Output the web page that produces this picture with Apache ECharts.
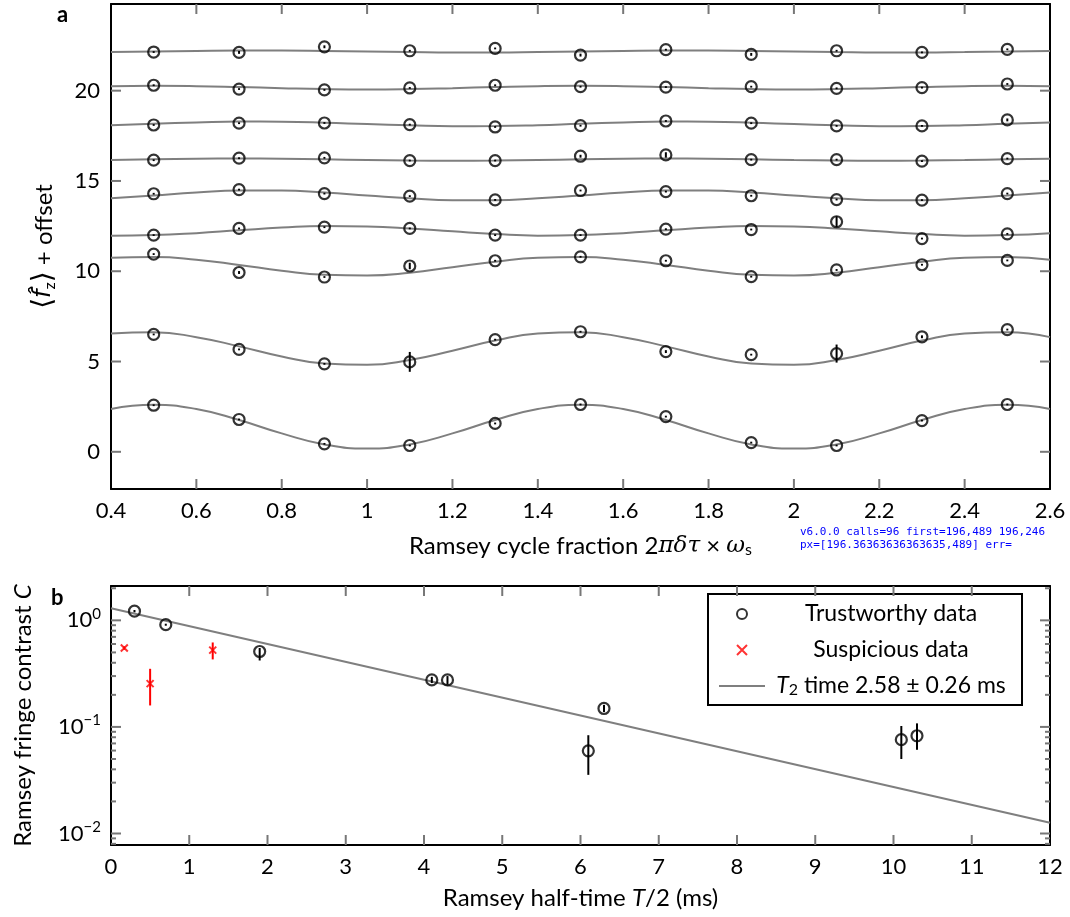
<!DOCTYPE html>
<html><head><meta charset="utf-8">
<script src="https://cdn.jsdelivr.net/npm/echarts@6/dist/echarts.min.js"></script>
<style>html,body{margin:0;padding:0;background:#fff}#c{width:1070px;height:917px}#dbg{position:absolute;left:800px;top:525px;font:11px monospace;color:#00f;white-space:pre}</style>
</head><body><div id="c"></div><div id="dbg"></div>
<script>
// ---------- Panel a data ----------
const cycleX = [0.5,0.7,0.9,1.1,1.3,1.5,1.7,1.9,2.1,2.3,2.5];
const xTicksA = [0.4,0.6,0.8,1,1.2,1.4,1.6,1.8,2,2.2,2.4,2.6];
const yTicksA = [0,5,10,15,20];
const fitX = [0.4,0.5,0.6,0.7,0.8,0.9,1.0,1.1,1.2,1.3,1.4,1.5,1.6,1.7,1.8,1.9,2.0,2.1,2.2,2.3,2.4,2.5,2.6];

const pts0 = [2.58,1.79,0.44,0.35,1.57,2.62,1.95,0.51,0.35,1.73,2.62];
const pts1 = [6.50,5.67,4.87,4.98,6.21,6.65,5.55,5.38,5.44,6.37,6.77];
const pts2 = [10.95,9.93,9.68,10.29,10.58,10.80,10.58,9.70,10.07,10.36,10.60];
const pts3 = [12.00,12.37,12.44,12.37,12.00,12.00,12.33,12.31,12.74,11.81,12.07];
const pts4 = [14.29,14.52,14.30,14.16,13.95,14.47,14.41,14.18,13.97,13.94,14.30];
const pts5 = [16.15,16.26,16.28,16.13,16.13,16.37,16.44,16.18,16.18,16.10,16.24];
const pts6 = [18.10,18.20,18.21,18.12,17.99,18.06,18.32,18.20,18.05,18.05,18.38];
const pts7 = [20.30,20.09,20.04,20.15,20.30,20.22,20.20,20.22,20.13,20.17,20.37];
const pts8 = [22.14,22.12,22.43,22.21,22.34,21.97,22.27,22.01,22.21,22.12,22.29];

const err0 = [0.05,0.05,0.05,0.05,0.05,0.05,0.05,0.05,0.05,0.05,0.05];
const err1 = [0.05,0.05,0.05,0.55,0.05,0.05,0.08,0.05,0.50,0.08,0.05];
const err2 = [0.05,0.08,0.05,0.18,0.05,0.05,0.05,0.05,0.05,0.05,0.05];
const err3 = [0.05,0.05,0.05,0.05,0.05,0.05,0.05,0.05,0.30,0.05,0.05];
const err4 = [0.05,0.05,0.05,0.05,0.05,0.05,0.05,0.05,0.05,0.05,0.05];
const err5 = [0.05,0.05,0.05,0.05,0.05,0.08,0.15,0.05,0.05,0.05,0.05];
const err6 = [0.05,0.05,0.05,0.05,0.05,0.05,0.05,0.05,0.05,0.05,0.08];
const err7 = [0.05,0.05,0.05,0.05,0.05,0.05,0.05,0.05,0.05,0.05,0.05];
const err8 = [0.05,0.08,0.08,0.05,0.05,0.08,0.05,0.08,0.05,0.05,0.05];

const fit0 = [2.37,2.60,2.37,1.76,1.02,0.41,0.18,0.41,1.02,1.76,2.37,2.60,2.37,1.76,1.02,0.41,0.18,0.41,1.02,1.76,2.37,2.60,2.37];
const fit1 = [6.55,6.62,6.35,5.84,5.28,4.89,4.82,5.09,5.60,6.16,6.55,6.62,6.35,5.84,5.28,4.89,4.82,5.09,5.60,6.16,6.55,6.62,6.35];
const fit2 = [10.75,10.79,10.64,10.35,10.03,9.81,9.77,9.92,10.22,10.53,10.75,10.79,10.64,10.35,10.03,9.81,9.77,9.92,10.22,10.53,10.75,10.79,10.64];
const fit3 = [11.97,12.00,12.11,12.27,12.42,12.51,12.48,12.37,12.21,12.06,11.97,12.00,12.11,12.27,12.42,12.51,12.48,12.37,12.21,12.06,11.97,12.00,12.11];
const fit4 = [14.04,14.20,14.36,14.47,14.47,14.36,14.20,14.04,13.93,13.93,14.04,14.20,14.36,14.47,14.47,14.36,14.20,14.04,13.93,13.93,14.04,14.20,14.36];
const fit5 = [16.16,16.20,16.23,16.24,16.23,16.20,16.16,16.13,16.12,16.13,16.16,16.20,16.23,16.24,16.23,16.20,16.16,16.13,16.12,16.13,16.16,16.20,16.23];
const fit6 = [18.09,18.17,18.24,18.29,18.28,18.23,18.15,18.08,18.03,18.04,18.09,18.17,18.24,18.29,18.28,18.23,18.15,18.08,18.03,18.04,18.09,18.17,18.24];
const fit7 = [20.25,20.27,20.25,20.20,20.14,20.09,20.07,20.09,20.14,20.20,20.25,20.27,20.25,20.20,20.14,20.09,20.07,20.09,20.14,20.20,20.25,20.27,20.25];
const fit8 = [22.14,22.17,22.20,22.22,22.22,22.20,22.17,22.14,22.12,22.12,22.14,22.17,22.20,22.22,22.22,22.20,22.17,22.14,22.12,22.12,22.14,22.17,22.20];

// ---------- Panel b data ----------
const xTicksB = [0,1,2,3,4,5,6,7,8,9,10,11,12];
const yMajorB = [0.01,0.1,1];
const yMinorB = [0.008,0.009,0.02,0.03,0.04,0.05,0.06,0.07,0.08,0.09,0.2,0.3,0.4,0.5,0.6,0.7,0.8,0.9,2];
const trustX  = [0.3,0.7,1.9,4.1,4.3,6.1,6.3,10.1,10.3];
const trustY  = [1.22,0.91,0.51,0.276,0.276,0.0596,0.149,0.0759,0.0826];
const trustLo = [1.19,0.89,0.42,0.258,0.25,0.0355,0.138,0.050,0.061];
const trustHi = [1.25,0.93,0.55,0.295,0.30,0.0836,0.161,0.102,0.108];
const suspX  = [0.17,0.5,1.3];
const suspY  = [0.55,0.255,0.525];
const suspLo = [0.53,0.159,0.43];
const suspHi = [0.57,0.351,0.62];
const fitBX = [0,12];
const fitBY = [1.30,0.0126];

// ---------- style ----------
const F = 'Lato, "DejaVu Sans", sans-serif';
const GF = '"DejaVu Serif", "Liberation Serif", serif';
const GRAY = '#7f7f7f';
const TICK = '#777777';
const FS = 22, NS = 24, LS = 23;
const xMinA = 0.4, xMaxA = 2.6, yMinA = -2.06, yMaxA = 24.8;
const xMinB = 0, xMaxB = 12, yMinB = 0.0078, yMaxB = 2.1;
const log10 = v => Math.log10(v);
const dbg = {calls:0, err:'', first:''};

const ptsAll = [pts0,pts1,pts2,pts3,pts4,pts5,pts6,pts7,pts8];
const errAll = [err0,err1,err2,err3,err4,err5,err6,err7,err8];
const fitAll = [fit0,fit1,fit2,fit3,fit4,fit5,fit6,fit7,fit8];

function errSeries(items, color, xi, yi){
  return {type:'custom', xAxisIndex:xi, yAxisIndex:yi, data:items, silent:true, z:5,
    encode:{x:0, y:[1,2]},
    renderItem:function(params, api){
      const p1 = api.coord([api.value(0), api.value(1)]);
      const p2 = api.coord([api.value(0), api.value(2)]);
      return {type:'line', shape:{x1:p1[0],y1:p1[1],x2:p2[0],y2:p2[1]}, style:{stroke:color, lineWidth:2}};
    }};
}
// tick marks: each item [x, y, x2, y2] = anchor on the frame and a point one step inside (data units)
function tickSeries(xi, yi, items, len){
  return {type:'custom', xAxisIndex:xi, yAxisIndex:yi, data:items, silent:true, z:6,
    encode:{x:[0,2], y:[1,3]},
    renderItem:function(params, api){
      try {
        dbg.calls++;
        const p = api.coord([api.value(0), api.value(1)]);
        const q = api.coord([api.value(2), api.value(3)]);
        const dx = q[0]-p[0], dy = q[1]-p[1], d = Math.sqrt(dx*dx+dy*dy) || 1;
        if (!dbg.first) dbg.first = p.map(Math.round).join(',') + ' ' + q.map(Math.round).join(',');
        return {type:'line', shape:{x1:p[0], y1:p[1], x2:p[0]+dx/d*len, y2:p[1]+dy/d*len}, style:{stroke:TICK, lineWidth:2}};
      } catch(e){ dbg.err = String(e); return null; }
    }};
}

const XA = 0, YA = 0, XB = 1, YB = 1;
const series = [];
fitAll.forEach(f => series.push({type:'line', xAxisIndex:XA, yAxisIndex:YA, data:fitX.map((x,i)=>[x,f[i]]),
  smooth:0.5, symbol:'none', silent:true, lineStyle:{color:GRAY, width:2}, z:2}));
const ptsA = [], errA = [];
ptsAll.forEach((p,k)=>p.forEach((v,i)=>{ ptsA.push([cycleX[i], v]); errA.push([cycleX[i], v-errAll[k][i], v+errAll[k][i]]); }));
series.push({type:'scatter', xAxisIndex:XA, yAxisIndex:YA, data:ptsA, symbol:'circle', symbolSize:11, silent:true,
  itemStyle:{color:'rgba(0,0,0,0)', borderColor:'#000', borderWidth:2.2}, z:4});
series.push(errSeries(errA, '#000', XA, YA));

const fitName = 'T2 time';
series.push({name:fitName, type:'line', xAxisIndex:XB, yAxisIndex:YB, data:fitBX.map((x,i)=>[x,fitBY[i]]),
  symbol:'none', silent:true, lineStyle:{color:GRAY, width:2}, itemStyle:{color:'rgba(0,0,0,0)', borderWidth:0}, z:2});
series.push({name:'Trustworthy data', type:'scatter', xAxisIndex:XB, yAxisIndex:YB, data:trustX.map((x,i)=>[x,trustY[i]]),
  symbol:'circle', symbolSize:11, silent:true, itemStyle:{color:'rgba(0,0,0,0)', borderColor:'#000', borderWidth:2.2}, z:4});
series.push({name:'Suspicious data', type:'scatter', xAxisIndex:XB, yAxisIndex:YB, data:suspX.map((x,i)=>[x,suspY[i]]),
  symbol:'path://M0,0L10,10M0,10L10,0', symbolKeepAspect:true, symbolSize:7, silent:true,
  itemStyle:{color:'rgba(0,0,0,0)', borderColor:'#ff0000', borderWidth:2}, z:4});
series.push(errSeries(trustX.map((x,i)=>[x,trustLo[i],trustHi[i]]), '#000', XB, YB));
series.push(errSeries(suspX.map((x,i)=>[x,suspLo[i],suspHi[i]]), '#ff0000', XB, YB));

// tick marks: anchor on frame, direction toward plot interior
const inA = xTicksA.slice(1,-1), inB = xTicksB.slice(1,-1);
const midA = [(xMinA+xMaxA)/2, (yMinA+yMaxA)/2];
series.push(tickSeries(XA, YA, inA.map(v=>[v,yMinA,v,midA[1]]), 10));
series.push(tickSeries(XA, YA, inA.map(v=>[v,yMaxA,v,midA[1]]), 10));
series.push(tickSeries(XA, YA, yTicksA.map(v=>[xMinA,v,midA[0],v]), 10));
series.push(tickSeries(XA, YA, yTicksA.map(v=>[xMaxA,v,midA[0],v]), 10));
series.push(tickSeries(XB, YB, inB.map(v=>[v,yMinB,v,0.1]), 10));
series.push(tickSeries(XB, YB, inB.map(v=>[v,yMaxB,v,0.1]), 10));
series.push(tickSeries(XB, YB, yMajorB.map(v=>[xMinB,v,6,v]), 10));
series.push(tickSeries(XB, YB, yMinorB.map(v=>[xMinB,v,6,v]), 5));
series.push(tickSeries(XB, YB, yMajorB.map(v=>[xMaxB,v,6,v]), 10));
series.push(tickSeries(XB, YB, yMinorB.map(v=>[xMaxB,v,6,v]), 5));

function labelAxis(gridIndex, position, min, max, vals, extra){
  return Object.assign({type:'value', gridIndex:gridIndex, position:position, min:min, max:max,
    axisLine:{show:true, onZero:false, lineStyle:{color:'#000', width:2}}, axisTick:{show:false}, splitLine:{show:false}}, extra,
    {axisLabel:Object.assign({show:true, customValues:vals.slice(), fontSize:FS, fontFamily:F, color:'#000', margin:11}, extra.axisLabel||{})});
}
function frameAxis(gridIndex, position, min, max, type){
  return {type:type||'value', gridIndex:gridIndex, position:position, min:min, max:max,
    axisLine:{show:true, onZero:false, lineStyle:{color:'#000', width:2}}, axisTick:{show:false}, axisLabel:{show:false}, splitLine:{show:false}};
}
const supFmt = v => { const e = Math.round(v); return '10{sup|' + (e < 0 ? '\u2212' + (-e) : e) + '}'; };

function nameStyle(){ return {fontSize:NS, fontFamily:F, color:'#000',
  rich:{g:{fontSize:23, fontFamily:GF, fontStyle:'italic', color:'#000'},
        it:{fontSize:NS, fontFamily:F, fontStyle:'italic', color:'#000'},
        h:{fontSize:NS, fontFamily:'"DejaVu Sans", sans-serif', fontStyle:'italic', color:'#000'},
        br:{fontSize:28, fontFamily:'"DejaVu Sans", sans-serif', color:'#000'},
        sub:{fontSize:16, fontFamily:F, color:'#000', verticalAlign:'bottom', lineHeight:16}}}; }

const option = {
  animation:false,
  backgroundColor:'#fff',
  grid:[
    {left:111, top:4, width:939, height:485, show:false},
    {left:111, top:586, width:939, height:259, show:false}
  ],
  xAxis:[
    labelAxis(0, 'bottom', xMinA, xMaxA, xTicksA, {
      name:'Ramsey cycle fraction 2{g|\u03c0\u03b4\u03c4} \u00d7 {g|\u03c9}{sub|s}', nameLocation:'middle', nameGap:45, nameTextStyle:nameStyle()}),
    labelAxis(1, 'bottom', xMinB, xMaxB, xTicksB, {
      name:'Ramsey half-time {it|T}/2 (ms)', nameLocation:'middle', nameGap:41, nameTextStyle:nameStyle()}),
    frameAxis(0, 'top', xMinA, xMaxA),
    frameAxis(1, 'top', xMinB, xMaxB)
  ],
  yAxis:[
    labelAxis(0, 'left', yMinA, yMaxA, yTicksA, {
      name:'{br|\u27e8}{h|f\u0302}{sub|z}{br|\u27e9} + offset', nameLocation:'middle', nameGap:53, nameTextStyle:nameStyle()}),
    {type:'log', logBase:10, gridIndex:1, position:'left', min:yMinB, max:yMaxB, show:false},
    labelAxis(1, 'left', log10(yMinB), log10(yMaxB), yMajorB.map(log10), {
      axisLabel:{formatter:supFmt, margin:10, lineHeight:28,
        rich:{sup:{fontSize:15, fontFamily:F, color:'#000', verticalAlign:'top', lineHeight:15}}},
      name:'Ramsey fringe contrast {it|C}', nameLocation:'middle', nameGap:76, nameTextStyle:nameStyle()}),
    frameAxis(0, 'right', yMinA, yMaxA),
    frameAxis(1, 'right', log10(yMinB), log10(yMaxB))
  ],
  legend:{
    show:true, left:708, top:594, orient:'vertical', padding:[8,10,7,10], itemGap:12, itemWidth:46, itemHeight:10,
    borderColor:'#000', borderWidth:2, backgroundColor:'#fff', borderRadius:0, selectedMode:false,
    data:['Trustworthy data','Suspicious data', fitName],
    formatter: function(name){
      if (name === fitName) return '{ci|T}{cs|2}{c| time 2.58 \u00b1 0.26 ms}';
      return '{c|' + name + '}';
    },
    textStyle:{fontSize:LS, fontFamily:F, color:'#000', width:242, lineHeight:24,
      rich:{c:{fontSize:LS, fontFamily:F, color:'#000', align:'center'},
            ci:{fontSize:LS, fontFamily:F, fontStyle:'italic', color:'#000', align:'center'},
            cs:{fontSize:16, fontFamily:F, color:'#000', align:'center', verticalAlign:'bottom', lineHeight:16}}}
  },
  graphic:[
    {type:'text', left:57, top:4, style:{text:'a', fontSize:22, fontWeight:'bold', fontFamily:F, fill:'#000'}},
    {type:'text', left:51, top:587, style:{text:'b', fontSize:22, fontWeight:'bold', fontFamily:F, fill:'#000'}}
  ],
  series:series
};
const chart = echarts.init(document.getElementById('c'));
chart.setOption(option);
let px = '';
try { px = JSON.stringify(chart.convertToPixel({xAxisIndex:0, yAxisIndex:0}, [0.6, yMinA])); } catch(e){ px = 'ERR ' + e; }
document.getElementById('dbg').textContent = 'v' + echarts.version + ' calls=' + dbg.calls + ' first=' + dbg.first + '\npx=' + px + ' err=' + dbg.err;
</script>
</body></html>
